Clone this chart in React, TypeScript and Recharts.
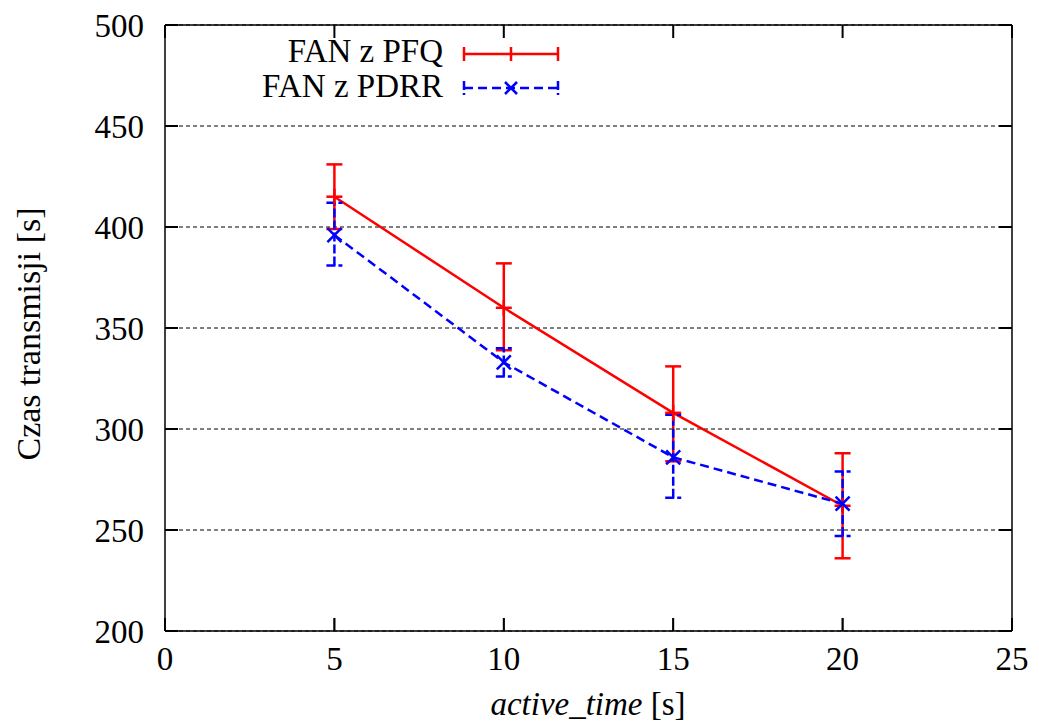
import { LineChart, Line, XAxis, YAxis, CartesianGrid, ErrorBar, Legend, ReferenceLine } from "recharts";

const activeTime = [5, 10, 15, 20];
const pfqMean = [415, 360, 308, 262];
const pfqLow = [399, 339, 284, 236];
const pfqHigh = [431, 382, 331, 288];
const pdrrMean = [396, 333, 286, 263];
const pdrrLow = [381, 326, 266, 247];
const pdrrHigh = [412, 340, 307, 279];
const xTicks = [0, 5, 10, 15, 20, 25];
const yTicks = [200, 250, 300, 350, 400, 450, 500];
const seriesNames = ["FAN z PFQ", "FAN z PDRR"];

const RED = "#ff0000";
const BLUE = "#0000ff";
const FONT = "'Liberation Serif', 'Times New Roman', serif";
const TICK_LEN = 13;

const data = activeTime.map((t, i) => ({
  t,
  pfq: pfqMean[i],
  pfqErr: [pfqMean[i] - pfqLow[i], pfqHigh[i] - pfqMean[i]],
  pdrr: pdrrMean[i],
  pdrrErr: [pdrrMean[i] - pdrrLow[i], pdrrHigh[i] - pdrrMean[i]],
}));

const tickStyle = { fontSize: 33, fill: "#000", fontFamily: FONT };

// inward tick marks at both ends of a reference line (gnuplot look)
const YTickMarks = (p: any) => {
  const a = Math.min(Number(p.x1), Number(p.x2));
  const b = Math.max(Number(p.x1), Number(p.x2));
  const y = Number(p.y1);
  return (
    <g stroke="#000" strokeWidth={2}>
      <line x1={a} x2={a + TICK_LEN} y1={y} y2={y} />
      <line x1={b - TICK_LEN} x2={b} y1={y} y2={y} />
    </g>
  );
};

const XTickMarks = (p: any) => {
  const a = Math.min(Number(p.y1), Number(p.y2));
  const b = Math.max(Number(p.y1), Number(p.y2));
  const x = Number(p.x1);
  return (
    <g stroke="#000" strokeWidth={2}>
      <line x1={x} x2={x} y1={a} y2={a + TICK_LEN} />
      <line x1={x} x2={x} y1={b - TICK_LEN} y2={b} />
    </g>
  );
};

const PlusDot = ({ cx, cy }: { cx?: number; cy?: number }) => {
  if (cx == null || cy == null) return null;
  return (
    <g stroke={RED} strokeWidth={2.5}>
      <line x1={cx - 8} x2={cx + 8} y1={cy} y2={cy} />
      <line x1={cx} x2={cx} y1={cy - 8} y2={cy + 8} />
    </g>
  );
};

const CrossDot = ({ cx, cy }: { cx?: number; cy?: number }) => {
  if (cx == null || cy == null) return null;
  return (
    <g stroke={BLUE} strokeWidth={2.5}>
      <line x1={cx - 7} x2={cx + 7} y1={cy - 7} y2={cy + 7} />
      <line x1={cx - 7} x2={cx + 7} y1={cy + 7} y2={cy - 7} />
    </g>
  );
};

const LegendBox = () => (
  <svg width={600} height={110} style={{ display: "block" }}>
    <g fontFamily={FONT} fontSize={33} fill="#000" textAnchor="end">
      <text x={443} y={62}>{seriesNames[0]}</text>
      <text x={443} y={97}>{seriesNames[1]}</text>
    </g>
    <g stroke={RED} strokeWidth={2.5}>
      <line x1={464} x2={558} y1={54} y2={54} />
      <line x1={464} x2={464} y1={47} y2={61} />
      <line x1={511} x2={511} y1={47} y2={61} />
      <line x1={558} x2={558} y1={47} y2={61} />
    </g>
    <g stroke={BLUE} strokeWidth={2.5}>
      <line x1={464} x2={558} y1={88} y2={88} strokeDasharray="9 5" />
      <line x1={464} x2={464} y1={81} y2={95} strokeDasharray="9 3" />
      <line x1={558} x2={558} y1={81} y2={95} strokeDasharray="9 3" />
      <line x1={505} x2={517} y1={82} y2={94} />
      <line x1={505} x2={517} y1={94} y2={82} />
    </g>
  </svg>
);

const XLabel = () => (
  <text x={588} y={715} textAnchor="middle" fontFamily={FONT} fontSize={33} fill="#000">
    <tspan fontStyle="italic">active_time</tspan>
    <tspan> [s]</tspan>
  </text>
);

const YLabel = () => (
  <text
    x={40}
    y={334}
    transform="rotate(-90, 40, 334)"
    textAnchor="middle"
    fontFamily={FONT}
    fontSize={34}
    fill="#000"
  >
    Czas transmisji [s]
  </text>
);

export default function App() {
  return (
    <div style={{ position: "absolute", left: 0, top: 0 }}>
      <LineChart width={1039} height={726} data={data} margin={{ top: 24, right: 26, bottom: 0, left: 0 }}>
        <CartesianGrid vertical={false} stroke="#000" strokeDasharray="4 3" strokeWidth={1} />
        <XAxis
          dataKey="t"
          type="number"
          domain={[0, 25]}
          ticks={xTicks}
          height={95}
          tickSize={-TICK_LEN}
          tickMargin={29}
          tick={tickStyle}
          stroke="#000"
          strokeWidth={1.5}
          label={<XLabel />}
        />
        <XAxis
          xAxisId="top"
          orientation="top"
          type="number"
          domain={[0, 25]}
          height={1}
          tickLine={false}
          tick={false}
          stroke="#000"
          strokeWidth={1.5}
        />
        <YAxis
          type="number"
          domain={[200, 500]}
          ticks={yTicks}
          width={165}
          tickSize={-TICK_LEN}
          tickMargin={34}
          tick={tickStyle}
          stroke="#000"
          strokeWidth={1.5}
          label={<YLabel />}
        />
        <YAxis
          yAxisId="right"
          orientation="right"
          type="number"
          domain={[200, 500]}
          width={1}
          tickLine={false}
          tick={false}
          stroke="#000"
          strokeWidth={1.5}
        />
        {yTicks.map((v) => (
          <ReferenceLine key={`yt${v}`} y={v} shape={YTickMarks} />
        ))}
        {xTicks.map((v) => (
          <ReferenceLine key={`xt${v}`} x={v} shape={XTickMarks} />
        ))}
        <Legend
          verticalAlign="middle"
          align="center"
          layout="horizontal"
          content={<LegendBox />}
          wrapperStyle={{ position: "absolute", left: 0, top: 0, width: 600, height: 110 }}
        />
        <Line
          dataKey="pfq"
          name={seriesNames[0]}
          stroke={RED}
          strokeWidth={2.5}
          dot={<PlusDot />}
          isAnimationActive={false}
        >
          <ErrorBar dataKey="pfqErr" width={8} stroke={RED} strokeWidth={2.5} direction="y" />
        </Line>
        <Line
          dataKey="pdrr"
          name={seriesNames[1]}
          stroke={BLUE}
          strokeWidth={2.5}
          strokeDasharray="9 5"
          dot={<CrossDot />}
          isAnimationActive={false}
        >
          <ErrorBar
            dataKey="pdrrErr"
            width={8}
            stroke={BLUE}
            strokeWidth={2.5}
            strokeDasharray="9 3"
            direction="y"
          />
        </Line>
      </LineChart>
    </div>
  );
}
